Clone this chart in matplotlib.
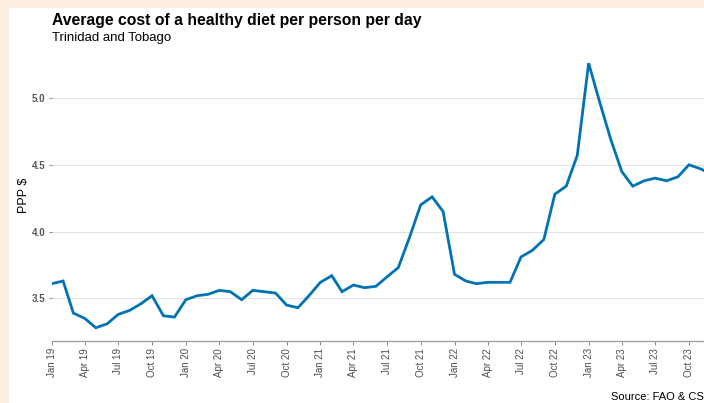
import matplotlib
matplotlib.use("Agg")
import matplotlib.pyplot as plt
import matplotlib.patches as patches
import pandas as pd

# monthly cost of a healthy diet, PPP $ per person per day
months = pd.date_range("2019-01-01", periods=60, freq="MS")
cost = [
	3.61, 3.63, 3.39, 3.35, 3.28, 3.31, 3.38, 3.41, 3.46, 3.52, 3.37, 3.36,
	3.49, 3.52, 3.53, 3.56, 3.55, 3.49, 3.56, 3.55, 3.54, 3.45, 3.43, 3.52,
	3.62, 3.67, 3.55, 3.60, 3.58, 3.59, 3.66, 3.73, 3.96, 4.20, 4.26, 4.15,
	3.68, 3.63, 3.61, 3.62, 3.62, 3.62, 3.81, 3.86, 3.94, 4.28, 4.34, 4.57,
	5.26, 4.96, 4.70, 4.45, 4.34, 4.38, 4.40, 4.38, 4.41, 4.50, 4.47, 4.43,
]
yticks = [3.5, 4.0, 4.5, 5.0]

title = "Average cost of a healthy diet per person per day"
subtitle = "Trinidad and Tobago"
source = "Source: FAO & CSO"

plt.rcParams["font.family"] = ["Liberation Sans", "DejaVu Sans"]

fig = plt.figure(figsize=(7.04, 4.03), dpi=100, facecolor="#FCEFE2")
# white card over the beige page, kept behind the axes
fig.patches.append(patches.Rectangle((9/704, 0), 1, (403-8)/403, transform=fig.transFigure,
	facecolor="white", edgecolor="none", zorder=-10))

ax = fig.add_axes([51.7/704, 62/403, 659.7/704, 291/403])
ax.set_facecolor("none")
ax.plot(months, cost, color="#0173B5", lw=2.0, solid_joinstyle="miter", zorder=3)

# ggplot style 5% expansion on y, none on x
lo, hi = min(cost), max(cost)
pad = (hi - lo) * 0.05
ax.set_ylim(lo - pad, hi + pad)
ax.set_xlim(months[0], months[-1])

ax.set_yticks(yticks)
ax.set_yticklabels(["%.1f" % t for t in yticks], fontsize=7, fontweight="bold", color="#555555")
ax.set_xticks(months[::3])
ax.set_xticklabels([m.strftime("%b %y") for m in months[::3]], rotation=90, fontsize=7, color="#4D4D4D")
ax.tick_params(axis="y", length=2.5, width=0.6, color="#777777", pad=2)
ax.tick_params(axis="x", length=3, width=0.6, color="#777777", pad=2)

ax.grid(axis="y", color="#E3E3E3", lw=0.8)
ax.set_axisbelow(True)
for s in ["top", "right", "left"]:
	ax.spines[s].set_visible(False)
ax.spines["bottom"].set_color("#999999")
ax.spines["bottom"].set_linewidth(0.9)

ax.set_ylabel("PPP $", fontsize=9, color="black", labelpad=1.5)

fig.text(52/704, 1 - 20/403, title, fontsize=11.3, fontweight="bold", va="center", ha="left")
fig.text(52/704, 1 - 38/403, subtitle, fontsize=9.5, va="center", ha="left")
fig.text(611/704, 1 - 397/403, source, fontsize=8, va="center", ha="left")

fig.savefig("out.png", dpi=100, facecolor=fig.get_facecolor())
